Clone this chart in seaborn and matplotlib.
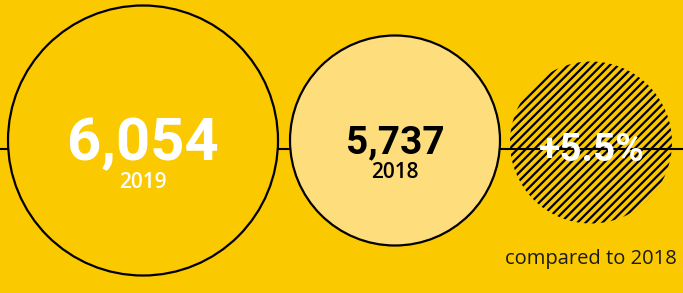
import matplotlib
matplotlib.use("Agg")
import matplotlib.pyplot as plt
from matplotlib.patches import Circle
import seaborn as sns

# data
years = [2019, 2018]
values = [6054, 5737]
compare_label = "compared to 2018"

change = (values[0] / values[1] - 1) * 100

YELLOW = "#FBC900"
LIGHT = "#FEDD7C"

sns.set_theme(style="white", rc={"figure.facecolor": YELLOW, "axes.facecolor": YELLOW,
                                 "hatch.linewidth": 1.6})
plt.rcParams["font.family"] = ["DejaVu Sans"]

BIG = ["Roboto", "DejaVu Sans"]
SMALL = ["Open Sans", "DejaVu Sans"]

fig = plt.figure(figsize=(6.83, 2.93), dpi=100)
ax = fig.add_axes([0, 0, 1, 1])
ax.set_xlim(0, 683)
ax.set_ylim(293, 0)
ax.set_aspect("equal")
ax.axis("off")

# horizontal guide line behind the circles
ax.axhline(148.5, color="black", lw=1.5, zorder=1)

# circle layout (pixel units)
centers = [(143, 140.5), (395, 140.5)]
radii = [135, 105]
fills = [YELLOW, LIGHT]
num_colors = ["white", "black"]
year_colors = ["white", "black"]
num_sizes = [43, 28]
num_base = [160, 153]
year_base = [188, 178]

for i, (yr, val) in enumerate(zip(years, values)):
    cx, cy = centers[i]
    ax.add_patch(Circle((cx, cy), radii[i], facecolor=fills[i], edgecolor="black",
                        lw=1.6, zorder=2))
    ax.text(cx, num_base[i], f"{val:,}", color=num_colors[i], fontsize=num_sizes[i],
            fontweight="bold", family=BIG, ha="center", va="baseline", zorder=4)
    ax.text(cx, year_base[i], str(yr), color=year_colors[i], fontsize=15,
            fontweight="semibold", family=SMALL, ha="center", va="baseline", zorder=4)

# hatched change circle
hc = Circle((591, 142.5), 81, facecolor="none", edgecolor="black", lw=0,
            hatch="////", zorder=2)
ax.add_patch(hc)
ax.text(592, 161, f"+{change:.1f}%", color="white", fontsize=28, fontweight="bold",
        family=BIG, ha="center", va="baseline", zorder=4)

ax.text(677, 264, compare_label, color="#1a1a1a", fontsize=14.5, family=SMALL,
        ha="right", va="baseline", zorder=4)

fig.savefig("out.png", dpi=100, facecolor=YELLOW)
